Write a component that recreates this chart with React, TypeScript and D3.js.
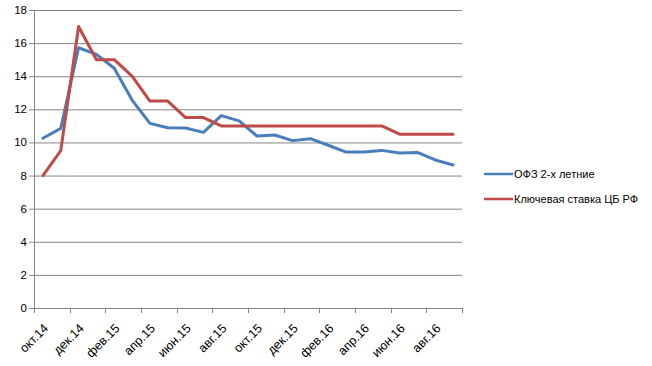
import { useEffect, useRef } from 'react'
import * as d3 from 'd3'

const months = [
  'окт.14', 'ноя.14', 'дек.14', 'янв.15', 'фев.15', 'мар.15', 'апр.15', 'май.15',
  'июн.15', 'июл.15', 'авг.15', 'сен.15', 'окт.15', 'ноя.15', 'дек.15', 'янв.16',
  'фев.16', 'мар.16', 'апр.16', 'май.16', 'июн.16', 'июл.16', 'авг.16', 'сен.16',
]
const ofz = [
  10.25, 10.85, 15.72, 15.32, 14.48, 12.56, 11.15, 10.89, 10.87, 10.61, 11.62, 11.3,
  10.39, 10.45, 10.11, 10.23, 9.83, 9.42, 9.42, 9.52, 9.36, 9.4, 8.94, 8.64,
]
const keyRate = [
  8, 9.5, 17, 15, 15, 14, 12.5, 12.5, 11.5, 11.5, 11, 11,
  11, 11, 11, 11, 11, 11, 11, 11, 10.5, 10.5, 10.5, 10.5,
]
const yTicks = [0, 2, 4, 6, 8, 10, 12, 14, 16, 18]
const seriesNames = ['ОФЗ 2-х летние', 'Ключевая ставка ЦБ РФ']
const colors = ['#4A7EBB', '#BE4B48']

export default function App() {
  const svgRef = useRef<SVGSVGElement>(null)

  useEffect(() => {
    if (!svgRef.current) return
    const svg = d3.select(svgRef.current)
    svg.selectAll('*').remove()

    const left = 34
    const right = 462
    const top = 10
    const bottom = 308
    const font = 'Liberation Sans, Arial, sans-serif'

    const x = d3.scaleBand<string>().domain(months).range([left, right])
    const y = d3.scaleLinear().domain([0, 18]).range([bottom, top])

    // gridlines
    svg.append('g')
      .selectAll('line')
      .data(yTicks)
      .join('line')
      .attr('x1', left - 5)
      .attr('x2', right)
      .attr('y1', d => y(d) + 0.5)
      .attr('y2', d => y(d) + 0.5)
      .attr('stroke', '#868686')
      .attr('stroke-width', 1)

    // y axis line
    svg.append('line')
      .attr('x1', left + 0.5).attr('x2', left + 0.5)
      .attr('y1', top).attr('y2', bottom + 5)
      .attr('stroke', '#868686')

    // y labels
    svg.append('g')
      .selectAll('text')
      .data(yTicks)
      .join('text')
      .attr('x', left - 7)
      .attr('y', d => y(d))
      .attr('dy', '0.35em')
      .attr('text-anchor', 'end')
      .attr('font-family', font)
      .attr('font-size', 11.5)
      .attr('fill', '#000')
      .text(d => d)

    // x ticks at every second category boundary
    const boundaries = d3.range(0, months.length + 1, 2)
    svg.append('g')
      .selectAll('line')
      .data(boundaries)
      .join('line')
      .attr('x1', i => Math.round(left + i * x.step()) + 0.5)
      .attr('x2', i => Math.round(left + i * x.step()) + 0.5)
      .attr('y1', bottom)
      .attr('y2', bottom + 5)
      .attr('stroke', '#868686')

    // x labels
    svg.append('g')
      .selectAll('text')
      .data(months.filter((_, i) => i % 2 === 0))
      .join('text')
      .attr('transform', d => `translate(${(x(d) ?? 0) + x.bandwidth() / 2 + 3},${bottom + 18}) rotate(-45)`)
      .attr('text-anchor', 'end')
      .attr('dy', '0.35em')
      .attr('font-family', font)
      .attr('font-size', 12.5)
      .attr('fill', '#000')
      .text(d => d)

    const line = d3.line<number>()
      .x((_, i) => (x(months[i]) ?? 0) + x.bandwidth() / 2)
      .y(d => y(d))

    ;[ofz, keyRate].forEach((data, k) => {
      svg.append('path')
        .datum(data)
        .attr('fill', 'none')
        .attr('stroke', colors[k])
        .attr('stroke-width', 3)
        .attr('stroke-linejoin', 'round')
        .attr('stroke-linecap', 'round')
        .attr('d', line)
    })

    // legend
    const legend = svg.append('g')
    seriesNames.forEach((name, k) => {
      const ly = 174 + k * 25
      legend.append('line')
        .attr('x1', 484).attr('x2', 513)
        .attr('y1', ly).attr('y2', ly)
        .attr('stroke', colors[k])
        .attr('stroke-width', 2.5)
      legend.append('text')
        .attr('x', 514)
        .attr('y', ly)
        .attr('dy', '0.35em')
        .attr('font-family', font)
        .attr('font-size', 11)
        .attr('fill', '#000')
        .text(name)
    })
  }, [])

  return (
    <svg
      ref={svgRef}
      width={652}
      height={366}
      style={{ position: 'absolute', left: 0, top: 0, background: '#fff' }}
    />
  )
}
